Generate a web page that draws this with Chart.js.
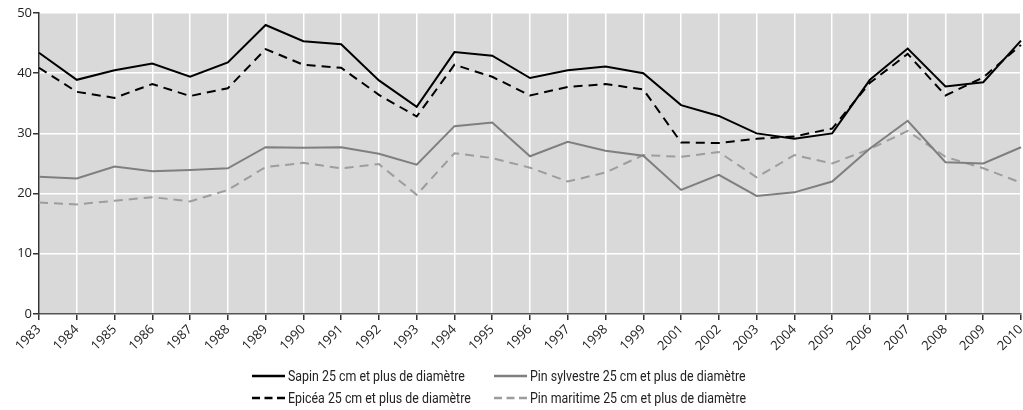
<!DOCTYPE html>
<html lang="fr">
<head>
<meta charset="utf-8">
<title>Diamètre 25 cm et plus</title>
<script src="https://cdn.jsdelivr.net/npm/chart.js@4.4.1/dist/chart.umd.min.js"></script>
<style>
  html, body { margin: 0; padding: 0; background: #fff; }
  #cadre { position: relative; width: 1023px; height: 410px; }
  #legende {
    position: absolute; left: 252px; top: 367px;
    display: grid; grid-template-columns: 242px 300px; row-gap: 4px;
    font: 14px Roboto, sans-serif;
    color: #222;
  }
  .item { display: flex; align-items: center; height: 18px; white-space: nowrap; }
  .item svg { margin-right: 3px; flex: none; }
  .item span { display: inline-block; transform: scaleX(0.885); transform-origin: left center; }
</style>
</head>
<body>
<div id="cadre">
  <canvas id="graphique" width="1023" height="410"></canvas>
  <div id="legende"></div>
</div>
<script>
const annees = ["1983","1984","1985","1986","1987","1988","1989","1990","1991","1992","1993","1994","1995","1996","1997","1998","1999","2001","2002","2003","2004","2005","2006","2007","2008","2009","2010"];

const sapin = [43.4,38.9,40.5,41.6,39.4,41.8,48.0,45.3,44.8,38.8,34.4,43.5,42.9,39.2,40.5,41.1,40.0,34.7,32.9,30.0,29.1,30.0,38.9,44.1,37.8,38.5,45.4];
const epicea = [40.9,36.9,35.9,38.2,36.2,37.5,44.0,41.4,40.9,36.4,32.8,41.4,39.4,36.3,37.7,38.2,37.3,28.5,28.4,29.1,29.5,30.8,38.4,43.2,36.3,39.3,44.7];
const pinSylvestre = [22.8,22.5,24.5,23.7,23.9,24.2,27.7,27.6,27.7,26.6,24.8,31.2,31.8,26.2,28.6,27.1,26.3,20.6,23.1,19.6,20.2,22.0,27.5,32.1,25.2,25.0,27.7];
const pinMaritime = [18.5,18.2,18.8,19.4,18.7,20.6,24.4,25.1,24.2,24.9,19.8,26.7,25.9,24.3,22.0,23.5,26.4,26.1,26.9,22.7,26.4,25.0,27.4,30.4,26.1,24.2,21.8];

const series = [
  { label: "Sapin 25 cm et plus de diamètre", data: sapin, couleur: "#000000", tirets: [] },
  { label: "Epicéa 25 cm et plus de diamètre", data: epicea, couleur: "#000000", tirets: [9, 6] },
  { label: "Pin sylvestre 25 cm et plus de diamètre", data: pinSylvestre, couleur: "#7f7f7f", tirets: [] },
  { label: "Pin maritime 25 cm et plus de diamètre", data: pinMaritime, couleur: "#9d9d9d", tirets: [9, 6] }
];

const fondGris = {
  id: "fondGris",
  beforeDraw(chart) {
    const { ctx, chartArea } = chart;
    ctx.save();
    ctx.fillStyle = "#d9d9d9";
    ctx.fillRect(chartArea.left, chartArea.top, chartArea.right - chartArea.left, chartArea.bottom - chartArea.top);
    ctx.restore();
  }
};

const police = { family: "'Open Sans', sans-serif", size: 13 };

new Chart(document.getElementById("graphique").getContext("2d"), {
  type: "line",
  data: {
    labels: annees,
    datasets: series.map(s => ({
      label: s.label,
      data: s.data,
      borderColor: s.couleur,
      backgroundColor: s.couleur,
      borderDash: s.tirets,
      borderWidth: 2,
      pointRadius: 0,
      tension: 0,
      fill: false
    }))
  },
  options: {
    responsive: false,
    animation: false,
    layout: { padding: { top: 13, right: 2, bottom: 54, left: 0 } },
    plugins: {
      legend: { display: false },
      tooltip: { enabled: false }
    },
    scales: {
      x: {
        offset: false,
        grid: { color: "#ffffff", lineWidth: 1.5, drawTicks: true, tickLength: 6, tickColor: "#333333" },
        border: { color: "#555555", width: 1.5 },
        ticks: { color: "#222", font: police, autoSkip: false, minRotation: 45, maxRotation: 45, padding: 2 },
        afterFit(scale) { scale.paddingRight = 0; }
      },
      y: {
        min: 0,
        max: 50,
        grid: { color: "#ffffff", lineWidth: 1.5, drawTicks: true, tickLength: 6, tickColor: "#333333" },
        border: { color: "#333333", width: 1.5 },
        ticks: { stepSize: 10, color: "#222", font: police, padding: 1 },
        afterFit(scale) { scale.width = 39; }
      }
    }
  },
  plugins: [fondGris]
});

// légende en HTML, deux colonnes
const legende = document.getElementById("legende");
[0, 2, 1, 3].forEach(i => {
  const s = series[i];
  const item = document.createElement("div");
  item.className = "item";
  const dash = s.tirets.length ? ' stroke-dasharray="8,4.5"' : "";
  item.innerHTML = `<svg width="33" height="4"><line x1="0" y1="2" x2="33" y2="2" stroke="${s.couleur}" stroke-width="2.5"${dash}/></svg><span>${s.label}</span>`;
  legende.appendChild(item);
});
</script>
</body>
</html>
